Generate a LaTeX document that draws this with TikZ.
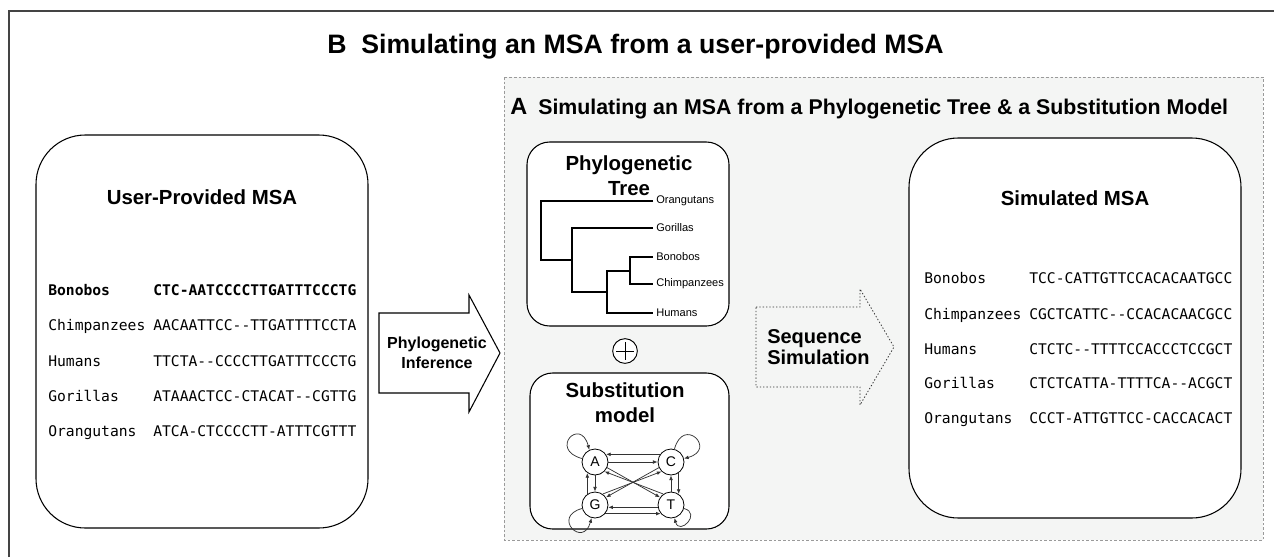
\documentclass[tikz,border=0pt]{standalone}
\usepackage{fontspec}
\setmainfont{Liberation Sans}
\newfontfamily\seqfont{DejaVu Sans Mono}
\usetikzlibrary{arrows.meta,calc}
\definecolor{panelbg}{HTML}{F4F5F4}
\definecolor{dashgray}{HTML}{9A9A9A}
\definecolor{framegray}{HTML}{444444}
\definecolor{edgegray}{HTML}{333333}
\begin{document}
\begin{tikzpicture}[x=0.75pt,y=-0.75pt,
  bigbox/.style={draw=black, line width=0.8pt, fill=white, rounded corners=37pt},
  smallbox/.style={draw=black, line width=0.8pt, fill=white, rounded corners=17pt},
  boxtitle/.style={font=\bfseries\fontsize{15.3pt}{18.5pt}\selectfont, align=center, inner sep=0},
  arrowtext/.style={font=\bfseries\fontsize{12pt}{15pt}\selectfont, align=center, inner sep=0},
  seqtext/.style={anchor=mid west, inner sep=0, font=\seqfont\fontsize{11pt}{13pt}\selectfont},
  seqbold/.style={anchor=mid west, inner sep=0, font=\seqfont\bfseries\fontsize{11pt}{13pt}\selectfont},
  leaf/.style={anchor=west, inner sep=0, font=\fontsize{8.3pt}{10pt}\selectfont},
  treeline/.style={line width=1pt, black},
  base/.style={draw=black, circle, line width=0.6pt, fill=white, minimum size=19.5pt, inner sep=0, font=\fontsize{10.5pt}{12pt}\selectfont},
  subedge/.style={edgegray, line width=0.55pt, -{Latex[length=3.5pt,width=2.8pt]}},
  shapearrow/.style={draw=black, line width=0.8pt, fill=white},
  dotarrow/.style={draw=edgegray, line width=0.6pt, dash pattern=on 1pt off 1.5pt, fill=panelbg}
]
\useasboundingbox (0,0) rectangle (1274,557);
\fill[white] (0,0) rectangle (1274,557);
% outer frame
\draw[framegray, line width=1pt] (9,557) -- (9,11) -- (1274,11);
% title B
\node[anchor=base west, font=\bfseries\fontsize{20pt}{23pt}\selectfont, inner sep=0] (titleB) at (327,53) {B\ \ Simulating an MSA from a user-provided MSA};
% panel A
\draw[dashgray, fill=panelbg, line width=0.6pt, dash pattern=on 2pt off 1.5pt] (504,77) rectangle (1263,540);
\node[anchor=base west, inner sep=0, font=\bfseries\fontsize{17.6pt}{20pt}\selectfont] (titleAletter) at (510,114) {A};
\node[anchor=base west, inner sep=0, font=\bfseries\fontsize{16pt}{18pt}\selectfont] (titleA) at (538,114) {Simulating an MSA from a Phylogenetic Tree \& a Substitution Model};

% user-provided MSA
\draw[bigbox] (36,135) rectangle (368,528);
\node[boxtitle] (utitle) at (202,197) {User-Provided MSA};
\node[seqbold] (u1n) at (48,292) {Bonobos};
\node[seqbold] (u1s) at (153,292) {CTC-AATCCCCTTGATTTCCCTG};
\node[seqtext] (u2n) at (48,327) {Chimpanzees};
\node[seqtext] (u2s) at (153,327) {AACAATTCC--TTGATTTTCCTA};
\node[seqtext] (u3n) at (48,363) {Humans};
\node[seqtext] (u3s) at (153,363) {TTCTA--CCCCTTGATTTCCCTG};
\node[seqtext] (u4n) at (48,398) {Gorillas};
\node[seqtext] (u4s) at (153,398) {ATAAACTCC-CTACAT--CGTTG};
\node[seqtext] (u5n) at (48,433) {Orangutans};
\node[seqtext] (u5s) at (153,433) {ATCA-CTCCCCTT-ATTTCGTTT};

% phylogenetic inference arrow
\draw[shapearrow] (379,313) -- (469,313) -- (469,295) -- (500,353) -- (469,412) -- (469,393) -- (379,393) -- cycle;
\node[arrowtext] (pinf) at (437,353) {Phylogenetic\\Inference};

% phylogenetic tree box
\draw[smallbox] (527,142) rectangle (729,326);
\node[boxtitle] (ttitle) at (629,176) {Phylogenetic\\Tree};
\draw[treeline] (653,201) -- (541,201) -- (541,260) -- (572,260);
\draw[treeline] (653,228) -- (572,228) -- (572,292) -- (607,292);
\draw[treeline] (630,271) -- (607,271) -- (607,313) -- (653,313);
\draw[treeline] (653,257) -- (630,257) -- (630,284) -- (653,284);
\node[leaf] (lo) at (656,201) {Orangutans};
\node[leaf] (lg) at (656,228) {Gorillas};
\node[leaf] (lb) at (656,257) {Bonobos};
\node[leaf] (lc) at (656,284) {Chimpanzees};
\node[leaf] (lh) at (656,313) {Humans};

% plus
\node[draw=black, circle, line width=0.7pt, fill=white, minimum size=18.5pt, inner sep=0] (plus) at (625,351) {};
\draw[line width=0.7pt] ($(plus)+(-9,0)$) -- ($(plus)+(9,0)$);
\draw[line width=0.7pt] ($(plus)+(0,-9)$) -- ($(plus)+(0,9)$);

% substitution model box
\draw[smallbox] (530,373) rectangle (729,529);
\node[boxtitle] (stitle) at (625,403) {Substitution\\model};
\node[base] (A) at (595,462) {A};
\node[base] (C) at (671,462) {C};
\node[base] (G) at (595,505) {G};
\node[base] (T) at (671,505) {T};
\draw[subedge] (A.0) -- (C.180);
\draw[subedge] (C.145) -- (A.35);
\draw[subedge] (A.270) -- (G.90);
\draw[subedge] (G.125) -- (A.235);
\draw[subedge] (T.90) -- (C.270);
\draw[subedge] (C.305) -- (T.55);
\draw[subedge] (T.190) -- (G.350);
\draw[subedge] (G.320) -- (T.220);
\draw[subedge] (A.-25) -- (T.145);
\draw[subedge] (T.125) -- (A.-45);
\draw[subedge] (C.-155) -- (G.35);
\draw[subedge] (G.55) -- (C.225);
\draw[subedge] (A.165) to[out=165,in=105,min distance=26pt] (A.115);
\draw[subedge] (C.75) to[out=75,in=15,min distance=26pt] (C.15);
\draw[subedge] (G.195) to[out=195,in=255,min distance=24pt] (G.255);
\draw[subedge] (T.-15) to[out=-15,in=-75,min distance=14pt] (T.-75);

% sequence simulation arrow
\draw[dotarrow] (756,307) -- (860,307) -- (860,289) -- (894,347) -- (860,405) -- (860,387) -- (756,387) -- cycle;
\node[font=\bfseries\fontsize{15pt}{16pt}\selectfont, align=left, inner sep=0, anchor=west] (ssim) at (767,347) {Sequence\\Simulation};

% simulated MSA
\draw[bigbox] (909,138) rectangle (1241,518);
\node[boxtitle] (stitle2) at (1075,198) {Simulated MSA};
\node[seqtext] (s1n) at (924,280) {Bonobos};
\node[seqtext] (s1s) at (1029,280) {TCC-CATTGTTCCACACAATGCC};
\node[seqtext] (s2n) at (924,316) {Chimpanzees};
\node[seqtext] (s2s) at (1029,316) {CGCTCATTC--CCACACAACGCC};
\node[seqtext] (s3n) at (924,351) {Humans};
\node[seqtext] (s3s) at (1029,351) {CTCTC--TTTTCCACCCTCCGCT};
\node[seqtext] (s4n) at (924,385) {Gorillas};
\node[seqtext] (s4s) at (1029,385) {CTCTCATTA-TTTTCA--ACGCT};
\node[seqtext] (s5n) at (924,420) {Orangutans};
\node[seqtext] (s5s) at (1029,420) {CCCT-ATTGTTCC-CACCACACT};
\end{tikzpicture}
\end{document}
